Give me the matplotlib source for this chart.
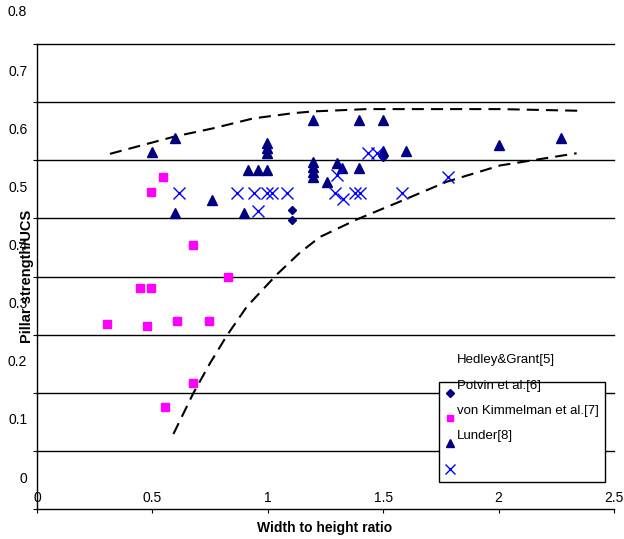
import numpy as np
import matplotlib
matplotlib.use("Agg")
import matplotlib.pyplot as plt
import matplotlib.transforms as mtransforms

plt.rcParams['font.family'] = ['Liberation Sans', 'DejaVu Sans']

# Hedley&Grant[5] (diamonds)
hedley_x = [1.106, 1.106, 1.500]
hedley_y = [0.514, 0.498, 0.606]

# Potvin et al.[6] (squares)
potvin_x = [0.302, 0.446, 0.475, 0.494, 0.494, 0.547, 0.555, 0.605, 0.675, 0.675, 0.747, 0.826]
potvin_y = [0.319, 0.380, 0.314, 0.545, 0.380, 0.572, 0.175, 0.324, 0.455, 0.216, 0.324, 0.400]

# von Kimmelman et al.[7] (triangles)
kimm_x = [0.497, 0.598, 0.598, 0.757, 0.898, 0.916, 0.956, 0.995, 0.995, 0.995, 0.995,
          1.197, 1.197, 1.197, 1.197, 1.197, 1.258, 1.298, 1.320, 1.397, 1.397,
          1.500, 1.500, 1.599, 2.002, 2.270]
kimm_y = [0.615, 0.638, 0.510, 0.532, 0.510, 0.584, 0.584, 0.584, 0.613, 0.621, 0.630,
          0.669, 0.597, 0.588, 0.580, 0.571, 0.562, 0.595, 0.586, 0.669, 0.586,
          0.669, 0.616, 0.616, 0.626, 0.639]

# Lunder[8] (crosses)
lunder_x = [0.617, 0.868, 0.940, 0.956, 0.995, 1.017, 1.082, 1.291, 1.298, 1.327,
            1.378, 1.400, 1.436, 1.474, 1.580, 1.779]
lunder_y = [0.543, 0.543, 0.543, 0.513, 0.543, 0.543, 0.543, 0.543, 0.575, 0.533,
            0.543, 0.543, 0.612, 0.612, 0.543, 0.572]

# dashed bounds
upper_x = [0.316, 0.598, 0.764, 0.937, 1.110, 1.196, 1.428, 1.716, 2.006, 2.367]
upper_y = [0.611, 0.641, 0.655, 0.672, 0.681, 0.684, 0.688, 0.688, 0.688, 0.685]
lower_x = [0.591, 0.677, 0.750, 0.822, 0.909, 1.038, 1.139, 1.226, 1.385, 1.573, 1.775, 2.006, 2.338]
lower_y = [0.129, 0.199, 0.251, 0.298, 0.348, 0.403, 0.441, 0.468, 0.498, 0.529, 0.563, 0.591, 0.612]

labels = ["Hedley&Grant[5]", "Potvin et al.[6]", "von Kimmelman et al.[7]", "Lunder[8]"]
yticks = [0, 0.1, 0.2, 0.3, 0.4, 0.5, 0.6, 0.7, 0.8]
xticks = [0, 0.5, 1, 1.5, 2, 2.5]
label_shift = 0.055  # y tick labels sit above their gridline

fig = plt.figure(figsize=(6.24, 5.39), dpi=100)
ax = fig.add_axes([37/624, 1 - 509/539, 577/624, 465/539])

navy = '#000080'
h1, = ax.plot(hedley_x, hedley_y, 'D', color=navy, ms=4.5, ls='none', zorder=4)
h2, = ax.plot(potvin_x, potvin_y, 's', color='#FF00FF', ms=5.5, ls='none', zorder=4)
h3, = ax.plot(kimm_x, kimm_y, '^', color=navy, ms=7, ls='none', zorder=4)
h4, = ax.plot(lunder_x, lunder_y, 'x', color='#0000FF', ms=9, mew=1.0, ls='none', zorder=4)

ax.plot(upper_x, upper_y, color='black', lw=1.5, dashes=(5.8, 3.4), zorder=3)
ax.plot(lower_x, lower_y, color='black', lw=1.5, dashes=(5.8, 3.4), zorder=3)

# gridlines
for v in yticks[1:]:
    ax.axhline(v, color='black', lw=1, zorder=1, clip_on=False)

for s in ['top', 'right']:
    ax.spines[s].set_visible(False)
ax.spines['left'].set_linewidth(1)
ax.spines['bottom'].set_linewidth(1)

# y: ticks at gridlines, labels drawn higher up
ax.set_yticks(yticks)
ax.set_yticklabels([])
ax.tick_params(axis='y', which='major', direction='out', length=3)
ax.set_yticks([v + label_shift for v in yticks[:-1]], minor=True)
ax.set_yticklabels([f"{v:g}" for v in yticks[:-1]], minor=True)
ax.tick_params(axis='y', which='minor', length=0, pad=7, labelsize=10)
# top label falls outside the axes range
trans = mtransforms.blended_transform_factory(ax.transAxes, ax.transData)
ax.text(-0.0173, yticks[-1] + label_shift, f"{yticks[-1]:g}", transform=trans,
        ha='right', va='center', fontsize=10, clip_on=False)

ax.set_xticks(xticks)
ax.set_xticklabels([f"{v:g}" for v in xticks])
ax.tick_params(axis='x', direction='out', length=3, pad=-16, labelsize=10)

# limits after the ticks, so the offset labels don't widen the range
ax.set_xlim(0, 2.5)
ax.set_ylim(0, 0.8)

ax.set_ylabel("Pillar strength/UCS", fontsize=10.5, fontweight='bold')
ax.yaxis.label.set_va('center')
ax.yaxis.set_label_coords(-0.017, 0.5)
ax.set_xlabel("Width to height ratio", fontsize=10, fontweight='bold')
ax.xaxis.label.set_va('center')
ax.xaxis.set_label_coords(0.498, -0.041)

leg = ax.legend([h1, h2, h3, h4], labels, loc='upper left',
                bbox_to_anchor=(0.6967, 0.2731), borderaxespad=0,
                fontsize=9.5, frameon=True, fancybox=False, framealpha=1,
                edgecolor='black', handlelength=0.7, handletextpad=0.2,
                borderpad=0.45, labelspacing=1.0, markerscale=0.85)
leg.get_frame().set_linewidth(1)
leg.set_zorder(5)
for t in leg.get_texts():
    t.set_color('none')

# labels sit one row higher than their markers
fig.canvas.draw()
renderer = fig.canvas.get_renderer()
inv = fig.transFigure.inverted()
for t, lab in zip(leg.get_texts(), labels):
    bb = t.get_window_extent(renderer)
    fx, fy = inv.transform((bb.x0, (bb.y0 + bb.y1) / 2 + 34))
    fig.text(fx, fy, lab, fontsize=9.5, va='center', ha='left', zorder=6)

fig.savefig("out.png", dpi=100)
